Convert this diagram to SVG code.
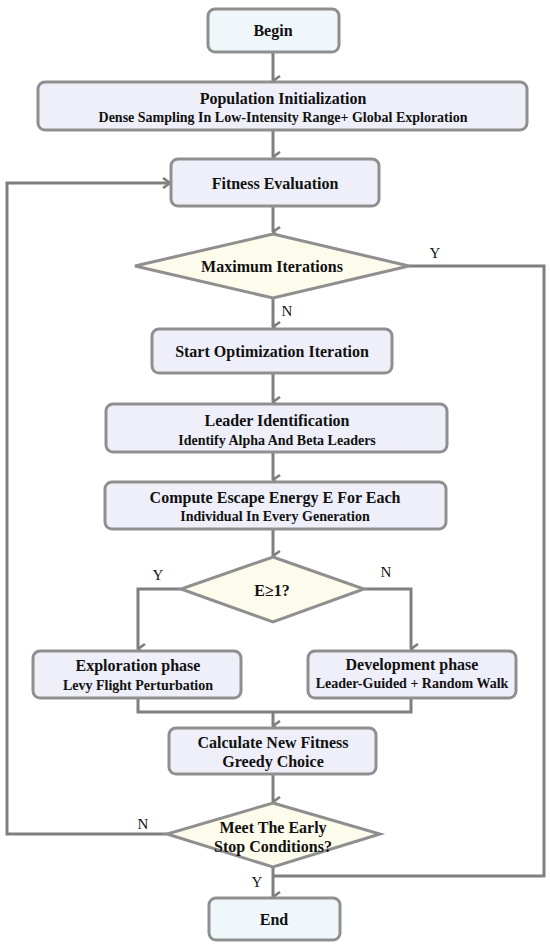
<svg xmlns="http://www.w3.org/2000/svg" width="550" height="946" viewBox="0 0 550 946">
<style>
.box{fill:#eeeff9;stroke:#8f8f8f;stroke-width:3}
.term{fill:#eff7fa;stroke:#8f8f8f;stroke-width:3}
.dia{fill:#fdfbec;stroke:#8f8f8f;stroke-width:3}
.ln{fill:none;stroke:#7f7f7f;stroke-width:3}
.t{font-family:"Liberation Serif","Times New Roman",serif;font-weight:bold;font-size:16px;fill:#111;text-anchor:middle;dominant-baseline:central}
.s{font-family:"Liberation Serif","Times New Roman",serif;font-weight:bold;font-size:14px;fill:#111;text-anchor:middle;dominant-baseline:central}
.lb{font-family:"Liberation Serif","Times New Roman",serif;font-size:15px;fill:#111;text-anchor:middle;dominant-baseline:central}
</style>
<defs>
<marker id="ah" viewBox="0 0 12 12" refX="6" refY="11" markerWidth="12" markerHeight="12" markerUnits="userSpaceOnUse" orient="auto-start-reverse">
<path d="M1,4 L6,11 L11,4" fill="none" stroke="#7f7f7f" stroke-width="2.6"/>
</marker>
<marker id="ar" viewBox="0 0 12 12" refX="11" refY="6" markerWidth="12" markerHeight="12" markerUnits="userSpaceOnUse" orient="0">
<path d="M4,1 L11,6 L4,11" fill="none" stroke="#7f7f7f" stroke-width="2.6"/>
</marker>
</defs>
<g id="connectors">
<line class="ln" x1="273" y1="52" x2="273" y2="81" marker-end="url(#ah)"/>
<line class="ln" x1="273" y1="130" x2="273" y2="157" marker-end="url(#ah)"/>
<line class="ln" x1="273" y1="206" x2="273" y2="232" marker-end="url(#ah)"/>
<line class="ln" x1="273" y1="298" x2="273" y2="327" marker-end="url(#ah)"/>
<line class="ln" x1="273" y1="373" x2="273" y2="402" marker-end="url(#ah)"/>
<line class="ln" x1="273" y1="452" x2="273" y2="480" marker-end="url(#ah)"/>
<line class="ln" x1="273" y1="529" x2="273" y2="556" marker-end="url(#ah)"/>
<polyline class="ln" points="181,589 138,589 138,649" marker-end="url(#ah)"/>
<polyline class="ln" points="364,589 411,589 411,649" marker-end="url(#ah)"/>
<polyline class="ln" points="138,698 138,712 411,712 411,698"/>
<line class="ln" x1="273" y1="712" x2="273" y2="726" marker-end="url(#ah)"/>
<line class="ln" x1="273" y1="774" x2="273" y2="802" marker-end="url(#ah)"/>
<line class="ln" x1="273" y1="867" x2="273" y2="897" marker-end="url(#ah)"/>
<polyline class="ln" points="167,834 7,834 7,183 170,183" marker-end="url(#ar)"/>
<polyline class="ln" points="409,266 544,266 544,876 273,876"/>
<text class="lb" x="435" y="253">Y</text>
<text class="lb" x="287" y="311">N</text>
<text class="lb" x="158" y="575">Y</text>
<text class="lb" x="386" y="572">N</text>
<text class="lb" x="143" y="824">N</text>
<text class="lb" x="257" y="882">Y</text>
</g>
<g id="begin">
<rect class="term" x="208" y="9" width="131" height="43" rx="7"/>
<text class="t" x="273" y="30.5">Begin</text>
</g>
<g id="population">
<rect class="box" x="38" y="82" width="489" height="48" rx="7"/>
<text class="t" x="283" y="98">Population Initialization</text>
<text class="s" x="283" y="117">Dense Sampling In Low-Intensity Range+ Global Exploration</text>
</g>
<g id="fitness">
<rect class="box" x="171" y="159" width="208" height="47" rx="7"/>
<text class="t" x="275" y="183">Fitness Evaluation</text>
</g>
<g id="maxiter">
<polygon class="dia" points="273,234 409,266 273,298 135,266"/>
<text class="t" x="272" y="266">Maximum Iterations</text>
</g>
<g id="start">
<rect class="box" x="152" y="329" width="240" height="44" rx="7"/>
<text class="t" x="272" y="351">Start Optimization Iteration</text>
</g>
<g id="leader">
<rect class="box" x="106" y="404" width="341" height="48" rx="7"/>
<text class="t" x="277" y="420">Leader Identification</text>
<text class="s" x="277" y="440">Identify Alpha And Beta Leaders</text>
</g>
<g id="compute">
<rect class="box" x="105" y="482" width="341" height="47" rx="7"/>
<text class="t" x="275" y="497">Compute Escape Energy E For Each</text>
<text class="s" x="275" y="516">Individual In Every Generation</text>
</g>
<g id="eq">
<polygon class="dia" points="273,557 364,589 273,622 181,589"/>
<text class="t" x="272" y="590">E≥1?</text>
</g>
<g id="exploration">
<rect class="box" x="33" y="651" width="208" height="47" rx="7"/>
<text class="t" x="138" y="665">Exploration phase</text>
<text class="s" x="138" y="685">Levy Flight Perturbation</text>
</g>
<g id="development">
<rect class="box" x="308" y="651" width="208" height="47" rx="7"/>
<text class="t" x="412" y="664">Development phase</text>
<text class="s" x="412" y="683">Leader-Guided + Random Walk</text>
</g>
<g id="calculate">
<rect class="box" x="169" y="728" width="207" height="46" rx="7"/>
<text class="t" x="273" y="742">Calculate New Fitness</text>
<text class="t" x="273" y="761">Greedy Choice</text>
</g>
<g id="earlystop">
<polygon class="dia" points="273,803 380,834 273,867 167,834"/>
<text class="t" x="273" y="827">Meet The Early</text>
<text class="t" x="273" y="846">Stop Conditions?</text>
</g>
<g id="end">
<rect class="term" x="209" y="898" width="131" height="42" rx="7"/>
<text class="t" x="274" y="919">End</text>
</g>
</svg>
